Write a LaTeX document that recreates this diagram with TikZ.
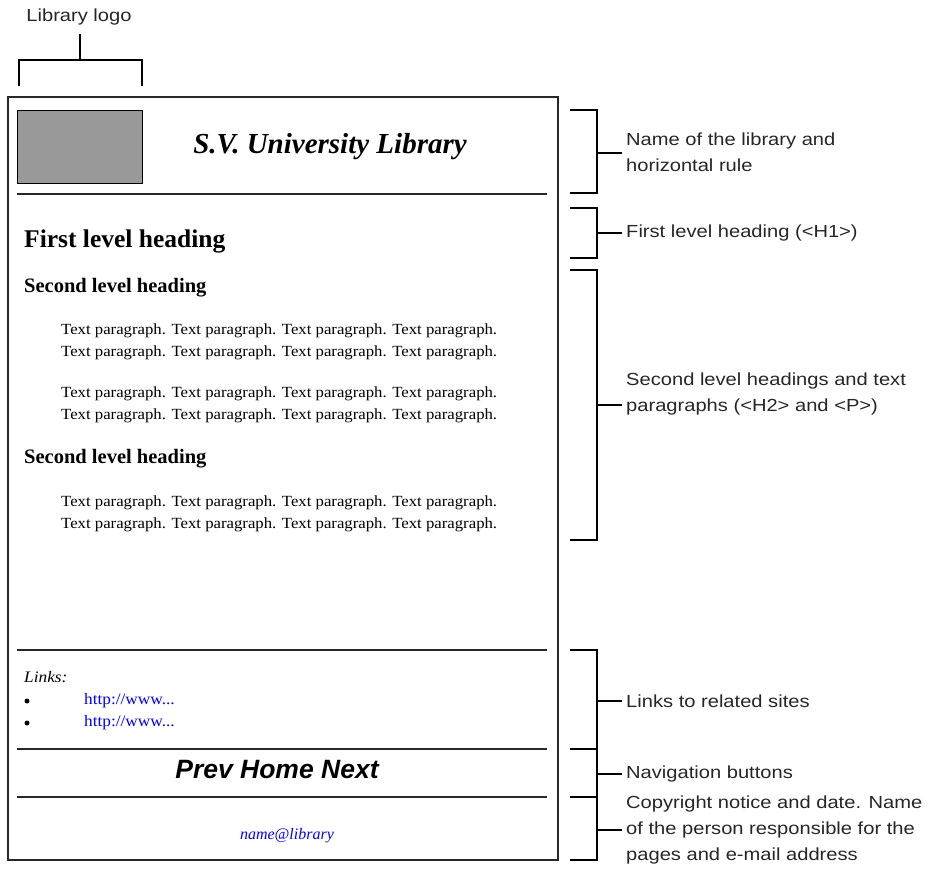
\documentclass[tikz,border=0pt]{standalone}
\usepackage{fontspec}
\setmainfont{Liberation Serif}
\setsansfont{Liberation Sans}
\newfontfamily\lblfont[FakeStretch=1.15]{Liberation Sans}
\newfontfamily\parafont[FakeStretch=1.08]{Liberation Serif}
\definecolor{linkblue}{RGB}{0,0,255}
\definecolor{logogray}{RGB}{153,153,153}
\definecolor{frameline}{RGB}{40,40,40}
\begin{document}
\begin{tikzpicture}[x=1pt,y=-1pt,
  brk/.style={draw=black, line width=1.2pt},
  rulel/.style={draw=frameline, line width=1.4pt},
  lbl/.style={anchor=west, inner sep=0pt, font=\lblfont\fontsize{17.5}{26}\selectfont, align=left, text=black!85},
  para/.style={anchor=west, inner sep=0pt, font=\parafont\fontsize{15.5}{22}\selectfont, align=left},
  h2/.style={anchor=west, inner sep=0pt, font=\bfseries\fontsize{20.5}{24}\selectfont}]
\useasboundingbox (0,0) rectangle (938,878);
% page frame
\draw[rulel] (8,97) rectangle (558,860);
\node[draw=black, line width=1.2pt, fill=logogray, minimum width=125pt, minimum height=73pt, inner sep=0pt, anchor=north west] (logo) at (17,110) {};
\node[inner sep=0pt, font=\bfseries\itshape\fontsize{29}{34}\selectfont] (title) at (330,147) {S.V. University Library};
\draw[rulel] (17,194) -- (547,194);
\draw[rulel] (17,650) -- (547,650);
\draw[rulel] (17,749) -- (547,749);
\draw[rulel] (17,797) -- (547,797);
% contents
\node[anchor=west, inner sep=0pt, font=\bfseries\fontsize{25.5}{28}\selectfont] (h1) at (24,241) {First level heading};
\node[h2] (h2a) at (24,288) {Second level heading};
\node[para] (p1) at (61,342) {Text paragraph. Text paragraph. Text paragraph. Text paragraph.\\Text paragraph. Text paragraph. Text paragraph. Text paragraph.};
\node[para] (p2) at (61,405) {Text paragraph. Text paragraph. Text paragraph. Text paragraph.\\Text paragraph. Text paragraph. Text paragraph. Text paragraph.};
\node[h2] (h2b) at (24,459) {Second level heading};
\node[para] (p3) at (61,514) {Text paragraph. Text paragraph. Text paragraph. Text paragraph.\\Text paragraph. Text paragraph. Text paragraph. Text paragraph.};
\node[anchor=west, inner sep=0pt, font=\parafont\itshape\fontsize{16}{18}\selectfont] (links) at (24,677) {Links:};
\fill (27,701) circle (2.5pt) coordinate (b1);
\fill (27,723) circle (2.5pt) coordinate (b2);
\node[anchor=west, inner sep=0pt, text=linkblue, font=\parafont\fontsize{16}{18}\selectfont] (l1) at (84,701) {http://www...};
\node[anchor=west, inner sep=0pt, text=linkblue, font=\parafont\fontsize{16}{18}\selectfont] (l2) at (84,723) {http://www...};
\node[inner sep=0pt, font=\sffamily\bfseries\itshape\fontsize{26.5}{30}\selectfont] (nav) at (277,770) {Prev Home Next};
\node[inner sep=0pt, text=linkblue, font=\itshape\fontsize{16}{18}\selectfont] (mail) at (287,836) {name@library};
% top bracket
\node[inner sep=0pt, font=\lblfont\fontsize{17.5}{20}\selectfont, text=black!85] (logolbl) at (79,17) {Library logo};
\draw[brk] (80,34) -- (80,60);
\draw[brk] (19,86) -- (19,60) -- (142,60) -- (142,86);
% right brackets
\draw[brk] (570,110) -- (597,110) -- (597,193) -- (570,193);
\draw[brk] (597,153) -- (622,153);
\node[lbl] (t1) at (626,152) {Name of the library and\\horizontal rule};
\draw[brk] (570,208) -- (597,208) -- (597,258) -- (570,258);
\draw[brk] (597,233) -- (622,233);
\node[lbl] (t2) at (626,233) {First level heading (<H1>)};
\draw[brk] (570,270) -- (597,270) -- (597,540) -- (570,540);
\draw[brk] (597,405) -- (622,405);
\node[lbl] (t3) at (626,394) {Second level headings and text\\paragraphs (<H2> and <P>)};
\draw[brk] (570,650) -- (597,650) -- (597,860) -- (570,860);
\draw[brk] (570,749) -- (597,749);
\draw[brk] (570,797) -- (597,797);
\draw[brk] (597,701) -- (622,701);
\node[lbl] (t4) at (626,701) {Links to related sites};
\draw[brk] (597,774) -- (622,774);
\node[lbl] (t5) at (626,774) {Navigation buttons};
\draw[brk] (597,830) -- (622,830);
\node[lbl] (t6) at (626,830) {Copyright notice and date. Name\\of the person responsible for the\\pages and e-mail address};
\end{tikzpicture}
\end{document}
